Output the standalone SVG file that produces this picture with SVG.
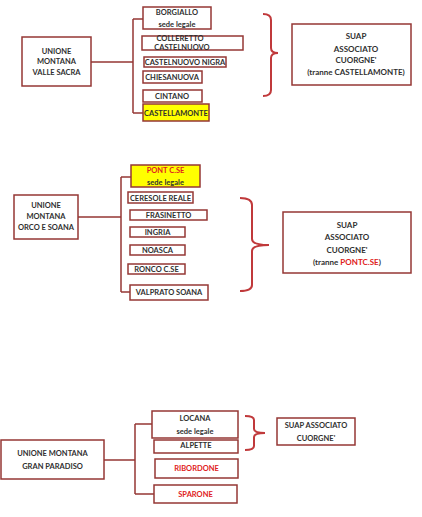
<svg xmlns="http://www.w3.org/2000/svg" width="422" height="517" viewBox="0 0 422 517">
<style>
.bx{fill:#fff;stroke:#953735;stroke-width:1.5}
.yl{fill:#ffff00;stroke:#953735;stroke-width:1.5}
.t{font-family:Lato,"Liberation Sans",sans-serif;font-weight:bold;font-size:7.5px;fill:#303030;text-anchor:middle}
.s{font-size:8px}
.r{fill:#e02020}
.ln{fill:none;stroke:#953735;stroke-width:1.5}
.br{fill:none;stroke:#c0393b;stroke-width:2}
</style>
<rect width="422" height="517" fill="#fff"/>
<g id="connectors">
<path class="ln" d="M91 62H133M133 19V113M133 19H143M133 113H143"/>
<path class="ln" d="M78 217H121M121 177V292M121 177H131M121 292H130"/>
<path class="ln" d="M104 460H135M135 424V494M135 424H152M135 494H154"/>
<path class="br" d="M263 14Q271 14 271 20V48Q271 53 278 53Q271 53 271 58V90Q271 96 263 96"/>
<path class="br" d="M240 198Q252 198 252 205V239Q252 245 269 245Q252 245 252 251V285Q252 291 240 291"/>
<path class="br" d="M245 416Q254 416 254 420V429Q254 433 265 433Q254 433 254 437V446Q254 450 245 450"/>
</g>
<g id="um_valle_sacra"><rect class="bx" x="22" y="37" width="69" height="49"/><text class="t" x="56.5" y="54">UNIONE</text><text class="t" x="56.5" y="64">MONTANA</text><text class="t" x="56.5" y="75">VALLE SACRA</text></g>
<g id="borgiallo"><rect class="bx" x="143" y="7" width="68" height="22"/><text class="t" x="177" y="15">BORGIALLO</text><text class="t" x="177" y="27">sede legale</text></g>
<g id="colleretto"><rect class="bx" x="142" y="36" width="101" height="14"/><text class="t" x="180" y="41">COLLERETTO</text><text class="t" x="182" y="50">CASTELNUOVO</text></g>
<g id="castelnuovo_nigra"><rect class="bx" x="144" y="57" width="82" height="10"/><text class="t" x="185" y="65">CASTELNUOVO NIGRA</text></g>
<g id="chiesanuova"><rect class="bx" x="143" y="71" width="59" height="12"/><text class="t" x="172" y="79.5">CHIESANUOVA</text></g>
<g id="cintano"><rect class="bx" x="143" y="90" width="59" height="12"/><text class="t" x="172" y="98.5">CINTANO</text></g>
<g id="castellamonte"><rect class="yl" x="143" y="104" width="66" height="17"/><text class="t" x="176" y="115.5">CASTELLAMONTE</text></g>
<g id="suap1"><rect class="bx" x="292" y="24" width="119" height="61"/><text class="t s" x="356" y="39">SUAP</text><text class="t s" x="356" y="52">ASSOCIATO</text><text class="t s" x="356" y="63">CUORGNE'</text><text class="t s" x="356" y="75">(tranne CASTELLAMONTE)</text></g>

<g id="um_orco_soana"><rect class="bx" x="14" y="195" width="64" height="44"/><text class="t" x="46" y="208">UNIONE</text><text class="t" x="46" y="219">MONTANA</text><text class="t" x="46" y="230">ORCO E SOANA</text></g>
<g id="pont"><rect class="yl" x="131" y="165" width="69" height="22"/><text class="t r" x="165.5" y="173">PONT C.SE</text><text class="t" x="165.5" y="185">sede legale</text></g>
<g id="ceresole"><rect class="bx" x="128" y="192" width="65" height="11"/><text class="t" x="160.5" y="200.5">CERESOLE REALE</text></g>
<g id="frasinetto"><rect class="bx" x="130" y="210" width="77" height="10"/><text class="t" x="168.5" y="218">FRASINETTO</text></g>
<g id="ingria"><rect class="bx" x="130" y="227" width="55" height="10"/><text class="t" x="157.5" y="235">INGRIA</text></g>
<g id="noasca"><rect class="bx" x="130" y="245" width="55" height="10"/><text class="t" x="157.5" y="253">NOASCA</text></g>
<g id="ronco"><rect class="bx" x="128" y="264" width="57" height="10"/><text class="t" x="156.5" y="272">RONCO C.SE</text></g>
<g id="valprato"><rect class="bx" x="130" y="285" width="78" height="15"/><text class="t" x="169" y="295">VALPRATO SOANA</text></g>
<g id="suap2"><rect class="bx" x="283" y="212" width="128" height="61"/><text class="t s" x="347" y="228">SUAP</text><text class="t s" x="347" y="240">ASSOCIATO</text><text class="t s" x="347" y="253">CUORGNE'</text><text class="t s" x="347" y="265">(tranne <tspan class="r">PONTC.SE</tspan>)</text></g>

<g id="um_gran_paradiso"><rect class="bx" x="1" y="440" width="103" height="39"/><text class="t" x="52.5" y="456">UNIONE MONTANA</text><text class="t" x="52.5" y="469">GRAN PARADISO</text></g>
<g id="locana"><rect class="bx" x="152" y="411" width="86" height="27"/><text class="t" x="195" y="421">LOCANA</text><text class="t" x="195" y="434">sede legale</text></g>
<g id="alpette"><rect class="bx" x="154" y="440" width="84" height="13"/><text class="t" x="196" y="448">ALPETTE</text></g>
<g id="ribordone"><rect class="bx" x="155" y="459" width="83" height="19"/><text class="t r" x="196.5" y="471">RIBORDONE</text></g>
<g id="sparone"><rect class="bx" x="154" y="485" width="83" height="18"/><text class="t r" x="195.5" y="497">SPARONE</text></g>
<g id="suap3"><rect class="bx" x="277" y="418" width="78" height="27"/><text class="t" x="316" y="428">SUAP ASSOCIATO</text><text class="t" x="316" y="441">CUORGNE'</text></g>
</svg>
